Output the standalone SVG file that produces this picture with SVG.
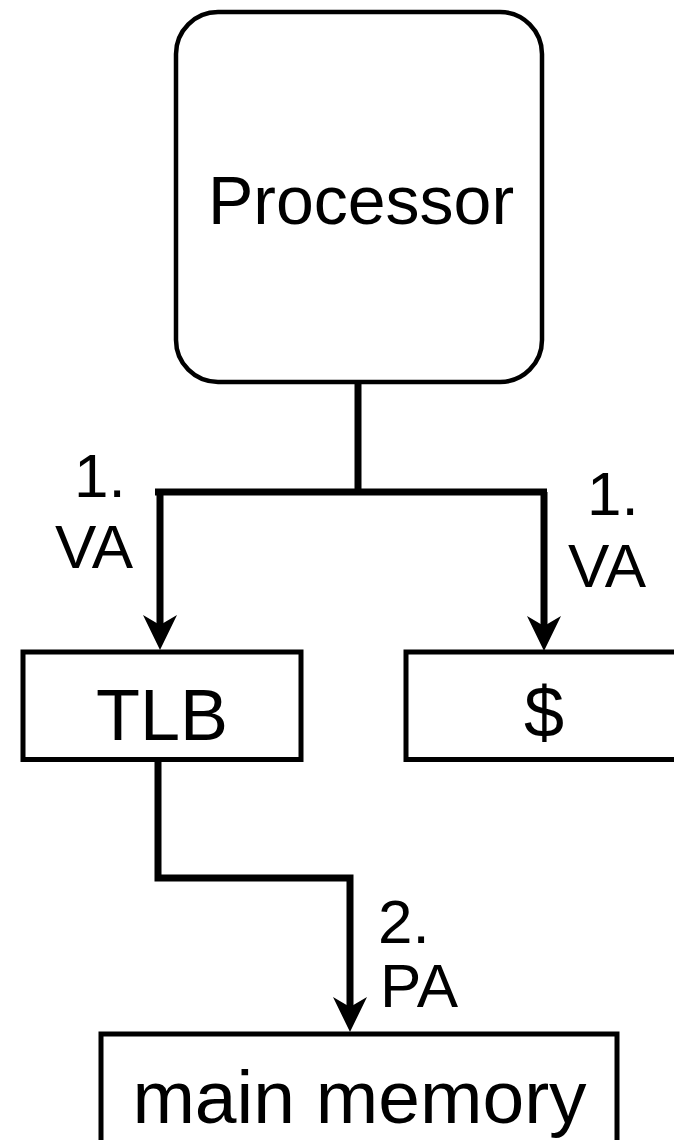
<svg xmlns="http://www.w3.org/2000/svg" width="674" height="1140" viewBox="0 0 674 1140">
<style>
.box{fill:#fff;stroke:#000;stroke-width:5}
.conn{fill:none;stroke:#000;stroke-width:7;stroke-linejoin:miter}
text{font-family:"Liberation Sans",Arial,Helvetica,sans-serif;fill:#000}
.big{text-anchor:middle}
.lbl{font-size:62px}
</style>
<defs>
<marker id="arr" markerUnits="userSpaceOnUse" viewBox="0 0 35 34" markerWidth="35" markerHeight="34" refX="10" refY="17" orient="auto">
<path d="M35 17 L0 0 L10 17 L0 34 Z" fill="#000"/>
</marker>
</defs>
<g id="processor">
<rect class="box" x="176" y="12" width="366" height="370" rx="42" ry="42" style="stroke-width:4.5"/>
<text class="big" x="361" y="224" font-size="68">Processor</text>
</g>
<g id="tlb">
<rect class="box" x="23" y="652" width="278" height="107.5"/>
<text class="big" x="162" y="740" font-size="72">TLB</text>
</g>
<g id="cache">
<rect class="box" x="406" y="652" width="400" height="107.5"/>
<text class="big" x="544" y="737" font-size="72">$</text>
</g>
<g id="mainmemory">
<rect class="box" x="101" y="1034" width="516" height="200"/>
<text class="big" x="359.5" y="1123" font-size="75">main memory</text>
</g>
<g id="connectors">
<path class="conn" d="M358 382 V492"/>
<path class="conn" d="M155 492 H547"/>
<path class="conn" d="M160 492 V625" marker-end="url(#arr)"/>
<path class="conn" d="M544 492 V626" marker-end="url(#arr)"/>
<path class="conn" d="M158 760 V878 H350 V1007" marker-end="url(#arr)"/>
<text class="lbl" x="74" y="497">1.</text>
<text class="lbl" x="55" y="568">VA</text>
<text class="lbl" x="587" y="515">1.</text>
<text class="lbl" x="568" y="587">VA</text>
<text class="lbl" x="378" y="943">2.</text>
<text class="lbl" x="380" y="1007">PA</text>
</g>
</svg>
